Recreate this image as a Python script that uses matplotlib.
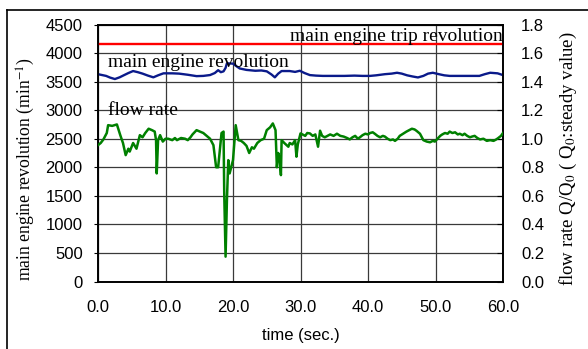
import matplotlib
matplotlib.use('Agg')
import matplotlib.pyplot as plt
from matplotlib.lines import Line2D

plt.rcParams['mathtext.fontset'] = 'stix'

# main engine revolution (min^-1)
rev_t = [0.0, 0.6, 1.2, 1.8, 2.5, 3.2, 3.8, 4.5, 5.2, 5.9, 6.6, 7.4, 8.2, 8.9, 9.7,
         11.0, 12.0, 13.3, 14.6, 15.6, 16.6, 17.3, 17.8, 18.2, 18.6, 18.9, 19.1,
         20.0, 20.5, 21.0, 22.0, 23.3, 24.2, 25.0, 25.7, 26.2, 26.7, 27.2, 28.4,
         29.2, 29.9, 30.6, 31.4, 32.3, 33.3, 35.0, 36.5, 38.0, 39.2, 40.3, 41.2,
         42.5, 43.5, 44.3, 45.0, 45.8, 46.6, 47.4, 48.2, 48.9, 49.6, 50.5, 51.3,
         52.1, 53.5, 55.0, 56.5, 57.3, 58.1, 59.2, 60.0]
rev_v = [3630, 3615, 3600, 3570, 3545, 3575, 3610, 3650, 3685, 3665, 3640, 3605, 3575,
         3610, 3645, 3645, 3640, 3620, 3596, 3600, 3615, 3650, 3700, 3665, 3680, 3740,
         3820, 3815, 3770, 3730, 3705, 3690, 3695, 3680, 3625, 3575, 3640, 3685, 3685,
         3670, 3690, 3650, 3614, 3605, 3600, 3600, 3600, 3605, 3600, 3600, 3610, 3630,
         3640, 3655, 3640, 3610, 3590, 3573, 3600, 3640, 3655, 3630, 3610, 3600, 3600,
         3600, 3600, 3630, 3655, 3645, 3614]

# flow rate Q/Q0
flow_t = [0.0, 0.4, 0.8, 1.3, 1.5, 2.1, 2.8, 3.3, 3.7, 4.1, 4.5, 4.7, 5.2, 5.7, 6.2,
          6.6, 7.0, 7.5, 8.0, 8.4, 8.6, 8.7, 8.9, 9.2, 9.6, 10.0, 10.4, 11.0, 11.4,
          11.7, 12.3, 12.9, 13.3, 13.7, 14.0, 14.6, 15.1, 15.6, 16.1, 16.6, 17.1,
          17.5, 17.8, 18.3, 18.6, 18.7, 18.9, 19.1, 19.3, 19.5, 20.0, 20.4, 20.8,
          21.2, 21.6, 22.0, 22.4, 22.8, 23.1, 23.6, 24.1, 24.6, 25.0, 25.5, 25.9,
          26.3, 26.5, 26.7, 26.9, 27.1, 27.2, 27.6, 28.2, 28.4, 28.8, 29.2, 29.4,
          29.6, 30.0, 30.3, 30.7, 31.0, 31.4, 31.8, 32.2, 32.6, 32.9, 33.2, 33.6,
          34.0, 34.4, 34.9, 35.4, 35.9, 36.4, 36.9, 37.3, 37.7, 38.1, 38.5, 38.8,
          39.2, 39.6, 40.0, 40.3, 40.7, 41.0, 41.4, 41.8, 42.2, 42.5, 42.9, 43.3,
          43.7, 44.0, 44.4, 44.7, 45.2, 45.7, 46.1, 46.5, 46.9, 47.2, 47.7, 48.2,
          48.7, 49.2, 49.6, 49.9, 50.3, 50.7, 51.0, 51.4, 51.8, 52.1, 52.5, 52.9,
          53.3, 53.6, 54.0, 54.3, 54.7, 55.1, 55.4, 55.8, 56.2, 56.6, 57.1, 57.6,
          58.1, 58.6, 59.0, 59.3, 59.7, 60.0]
flow_v = [0.955, 0.97, 0.995, 1.04, 1.095, 1.09, 1.10, 1.025, 0.97, 0.885, 0.93, 0.91,
          0.97, 0.93, 1.025, 1.01, 1.04, 1.07, 1.06, 1.05, 0.99, 0.757, 0.99, 1.025,
          0.98, 1.0, 1.0, 0.99, 1.005, 0.99, 1.005, 1.0, 0.99, 1.01, 1.03, 1.06, 1.05,
          1.04, 1.02, 1.0, 0.955, 0.80, 0.80, 1.04, 1.05, 0.617, 0.174, 0.57, 0.85,
          0.757, 0.85, 1.095, 0.99, 0.985, 0.97, 0.95, 0.90, 0.94, 0.93, 0.97, 0.99,
          1.0, 1.06, 1.08, 1.107, 1.06, 0.80, 0.90, 0.86, 0.745, 0.99, 0.97, 0.944,
          0.97, 0.96, 0.99, 0.874, 0.96, 1.037, 1.03, 1.02, 1.04, 1.037, 1.02, 1.03,
          0.944, 1.056, 1.02, 1.01, 1.02, 1.03, 1.02, 1.035, 1.02, 1.015, 1.005, 0.995,
          1.01, 1.02, 1.0, 1.01, 1.025, 1.035, 1.03, 1.04, 1.045, 1.035, 1.02, 1.01,
          1.02, 1.015, 1.0, 0.99, 0.995, 0.985, 1.0, 1.02, 1.035, 1.05, 1.06, 1.07,
          1.065, 1.055, 1.035, 0.99, 0.98, 0.975, 0.985, 0.98, 1.0, 1.02, 1.03, 1.04,
          1.035, 1.05, 1.04, 1.045, 1.03, 1.035, 1.025, 1.035, 1.02, 1.01, 1.015, 1.02,
          1.005, 0.995, 1.0, 0.985, 0.99, 0.985, 0.995, 1.005, 1.02, 1.04]

trip_rev = 4160

serif = ['Liberation Serif', 'DejaVu Serif']
sans = ['Liberation Sans', 'DejaVu Sans']

fig = plt.figure(figsize=(5.88, 3.49), dpi=100)
ax = fig.add_axes([98 / 588, 1 - 281.5 / 349, 405 / 588, 257 / 349])
ax2 = ax.twinx()

ax.set_xlim(0, 60)
ax.set_ylim(0, 4500)
ax2.set_ylim(0, 1.8)

ax.set_xticks(range(0, 61, 10))
ax.set_xticklabels(['%.1f' % v for v in range(0, 61, 10)], family=sans, fontsize=12)
ax.set_yticks(range(0, 4501, 500))
ax.set_yticklabels([str(v) for v in range(0, 4501, 500)], family=sans, fontsize=12)
ax2.set_yticks([i * 0.2 for i in range(10)])
ax2.set_yticklabels(['%.1f' % (i * 0.2) for i in range(10)], family=sans, fontsize=12)

ax.grid(True, color='#3a3a3a', linewidth=0.9)
ax.tick_params(axis='y', direction='out', length=3, pad=8)
ax.tick_params(axis='x', direction='in', length=0, pad=13)
ax2.tick_params(axis='y', direction='in', length=4, pad=13)
for a in (ax, ax2):
    for s in a.spines.values():
        s.set_linewidth(1.2)

ax.axhline(trip_rev, color='#ff0000', linewidth=1.7, zorder=3)
ax.plot(rev_t, rev_v, color='#0a1a8a', linewidth=1.7, zorder=3)
ax2.plot(flow_t, flow_v, color='#008000', linewidth=1.8, zorder=3)

ax.text(59.9, 4215, 'main engine trip revolution', ha='right', va='baseline',
        family=serif, fontsize=14, zorder=4)
ax.text(1.5, 3760, 'main engine revolution', ha='left', va='baseline',
        family=serif, fontsize=14, zorder=4)
ax.text(1.5, 2910, 'flow rate', ha='left', va='baseline',
        family=serif, fontsize=14, zorder=4)

ax.set_ylabel('main engine revolution (min$^{-1}$)', family=serif, fontsize=12.7)
ax.yaxis.set_label_coords(-0.151, 0.438)
ax2.set_ylabel('flow rate Q/Q$_0$ ( Q$_0$:steady value)', family=serif, fontsize=13.5)
ax2.yaxis.set_label_coords(1.136, 0.477)
ax.set_xlabel('time (sec.)', family=sans, fontsize=12, labelpad=10)

# outer frame
fig.add_artist(Line2D([7 / 588, 1], [1 - 10 / 349, 1 - 10 / 349], color='black', linewidth=1.2))
fig.add_artist(Line2D([7 / 588, 7 / 588], [0, 1 - 10 / 349], color='black', linewidth=1.2))

fig.savefig('out.png', dpi=100)
